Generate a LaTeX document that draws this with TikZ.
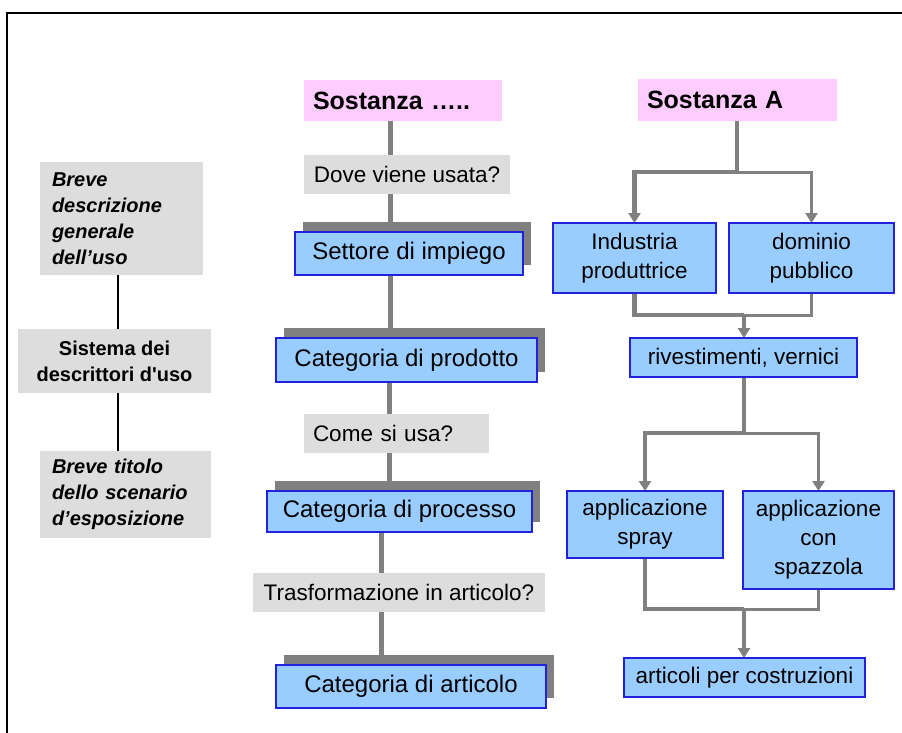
\documentclass[tikz,border=0pt]{standalone}
\usepackage{fontspec}
\setmainfont{Liberation Sans}
\usetikzlibrary{arrows.meta}
\definecolor{pinkf}{HTML}{FFCCFF}
\definecolor{grayf}{HTML}{DDDDDD}
\definecolor{bluef}{HTML}{99CCFF}
\definecolor{blued}{HTML}{2222DD}
\definecolor{linec}{HTML}{808080}
\newcommand\fBlue{\fontsize{24}{28}\selectfont}
\newcommand\fQ{\fontsize{22.5}{27}\selectfont}
\newcommand\fR{\fontsize{22.5}{29}\selectfont}
\newcommand\fP{\fontsize{25}{30}\selectfont\bfseries}
\newcommand\fL{\fontsize{20}{26}\selectfont\bfseries\itshape}
\newcommand\fLb{\fontsize{20}{26}\selectfont\bfseries}
\pgfdeclarelayer{back}
\pgfdeclarelayer{bg}
\pgfdeclarelayer{mid}
\pgfsetlayers{back,bg,mid,main}
\begin{document}
\begin{tikzpicture}[x=1pt,y=-1pt,
  every node/.style={inner sep=0pt, outer sep=0pt},
  sz/.style 2 args={minimum width=#1pt, minimum height=#2pt},
  graybox/.style={fill=grayf},
  pinkbox/.style={fill=pinkf, font=\fP, align=left},
  bluebox/.style={fill=bluef, draw=blued, line width=1.5pt, align=center},
  qbox/.style={fill=grayf, font=\fQ},
  mline/.style={draw=linec, line width=5pt},
  thickl/.style={draw=linec, line width=4.5pt},
  thinl/.style={draw=linec, line width=3pt},
  arr/.style={-{Triangle[length=10pt,width=12pt]}},
  shadowfill/.style={fill=linec}
]
\useasboundingbox (0,0) rectangle (902,733);
\begin{pgfonlayer}{back}
\fill[white] (0,0) rectangle (902,733);
\end{pgfonlayer}
\draw[line width=1.5pt] (902,13) -- (7,13) -- (7,733);

% left column
\node[graybox, sz={163}{113}, text width=139pt, align=left, font=\fL] (L1) at (121.5,218.5)
  {Breve\\descrizione\\generale\\dell’uso};
\node[graybox, sz={193}{64}, align=center, font=\fLb] (L2) at (114.5,361)
  {Sistema dei\\descrittori d\textquotesingle uso};
\node[graybox, sz={171}{87}, text width=147pt, align=left, font=\fL] (L3) at (125.5,494.5)
  {Breve titolo\\dello scenario\\d’esposizione};
\coordinate (lx) at (118,0);
\draw[line width=1.5pt] (L1.south -| lx) -- (L2.north -| lx);
\draw[line width=1.5pt] (L2.south -| lx) -- (L3.north -| lx);

% middle column
\node[pinkbox, sz={198}{41}, text width=180pt] (S1) at (403,100.5) {Sostanza …..};
\node[qbox, sz={206}{39}] (Q1) at (407,174.5) {Dove viene usata?};
\node[bluebox, sz={228}{43}, font=\fBlue] (B1) at (409,253.5) {Settore di impiego};
\node[bluebox, sz={261}{44}, font=\fBlue] (B2) at (406.5,360) {Categoria di prodotto};
\node[qbox, sz={185}{39}, text width=167pt, align=left] (Q2) at (396.5,433.5) {Come si usa?};
\node[bluebox, sz={265}{41}, font=\fBlue] (B3) at (399.5,511.5) {Categoria di processo};
\node[qbox, sz={292}{39}] (Q3) at (399,592.5) {Trasformazione in articolo?};
\node[bluebox, sz={270}{43}, font=\fBlue] (B4) at (411,686.5) {Categoria di articolo};

\begin{pgfonlayer}{mid}
\foreach \b in {B1,B2,B3,B4}
  \fill[shadowfill] ([xshift=8pt,yshift=10pt]\b.south west) rectangle ([xshift=8pt,yshift=10pt]\b.north east);
\end{pgfonlayer}

\coordinate (m1) at (390,0);
\coordinate (m2) at (389,0);
\coordinate (m3) at (381,0);
\begin{pgfonlayer}{bg}
\draw[mline] (S1.south -| m1) -- (B1.north -| m1);
\draw[mline, arr] (B1.south -| m1) -- (B2.north -| m1);
\draw[mline, arr] (B2.south -| m2) -- (B3.north -| m2);
\draw[mline, arr] (B3.south -| m3) -- (B4.north -| m3);
\end{pgfonlayer}

% right column
\node[pinkbox, sz={199}{42}, text width=181pt] (S2) at (737.5,100) {Sostanza A};
\node[bluebox, sz={163}{70}, font=\fR] (R1) at (634.5,258) {Industria\\produttrice};
\node[bluebox, sz={165}{70}, font=\fR] (R2) at (811.5,258) {dominio\\pubblico};
\node[bluebox, sz={227}{39}, font=\fR] (R3) at (743.5,357.5) {rivestimenti, vernici};
\node[bluebox, sz={156}{67}, font=\fR] (R4) at (645,524.5) {applicazione\\spray};
\node[bluebox, sz={151}{98}, font=\fR] (R5) at (818.5,540) {applicazione\\con\\spazzola};
\node[bluebox, sz={241}{39}, font=\fR] (R6) at (744.5,677.5) {articoli per costruzioni};

\coordinate (j1) at (737,172);
\coordinate (j2) at (744,315);
\coordinate (j3) at (744,433);
\coordinate (j4) at (744,609);
\begin{pgfonlayer}{bg}
\draw[thinl, arr] (j1) -| (R2.north);
\draw[thickl, arr] (S2.south -| j1) -- (j1) -| (R1.north);
\draw[thinl] (R2.south) |- (j2);
\draw[thickl] (R1.south) |- (j2);
\draw[thickl, arr] (j2) -- (R3.north -| j2);
\draw[thinl, arr] (j3) -| (R5.north);
\draw[thickl, arr] (R3.south -| j3) -- (j3) -| (R4.north);
\draw[thinl] (R5.south) |- (j4);
\draw[thickl] (R4.south) |- (j4);
\draw[thickl, arr] (j4) -- (R6.north -| j4);
\end{pgfonlayer}
\end{tikzpicture}
\end{document}
